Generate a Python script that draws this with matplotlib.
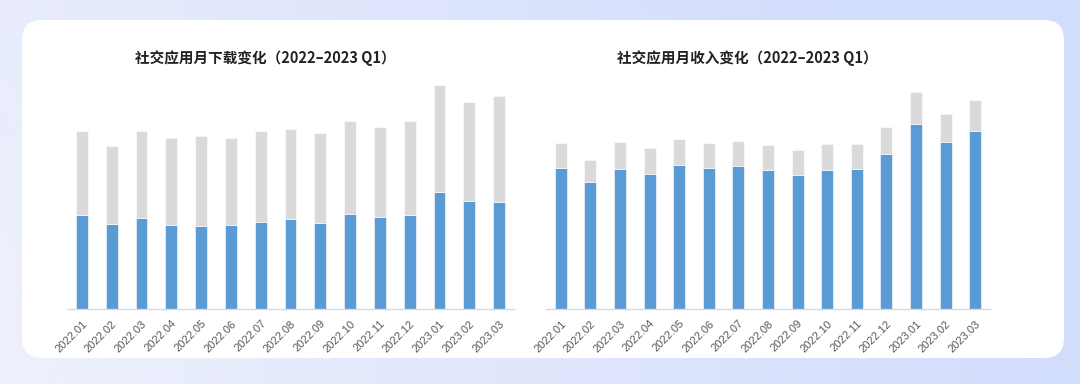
import numpy as np
import matplotlib.pyplot as plt
from matplotlib.patches import FancyBboxPatch

plt.rcParams['font.family'] = ['Noto Sans CJK SC', 'DejaVu Sans']

#
#  Data (arbitrary units)
#
months = ['2022.01', '2022.02', '2022.03', '2022.04', '2022.05', '2022.06',
          '2022.07', '2022.08', '2022.09', '2022.10', '2022.11', '2022.12',
          '2023.01', '2023.02', '2023.03']

dl_blue = [94.0, 84.4, 90.7, 84.0, 83.0, 83.4, 87.0, 89.4, 85.4, 95.0,
           91.7, 93.7, 117.0, 107.4, 106.7]
dl_gray = [83.7, 78.0, 87.0, 86.4, 89.7, 87.0, 90.7, 90.6, 90.3, 93.0,
           90.0, 94.3, 106.7, 99.0, 105.7]

rev_blue = [140.4, 126.4, 140.0, 135.0, 143.4, 140.4, 142.4, 138.7, 133.4,
            138.7, 139.7, 155.0, 185.0, 166.7, 177.7]
rev_gray = [25.3, 22.6, 26.4, 25.7, 26.0, 25.3, 25.6, 25.0, 25.3, 26.3,
            25.0, 26.4, 31.4, 28.3, 30.7]

titles = ['社交应用月下载变化（2022–2023 Q1）', '社交应用月收入变化（2022–2023 Q1）']

W, H = 1080, 384
BLUE = '#5b9bd5'
GRAY = '#dadada'

fig = plt.figure(figsize=(W / 100, H / 100), dpi=100)

# Gradient background
bg = fig.add_axes([0, 0, 1, 1])
gx = np.linspace(0, 1, 256)
grad = np.outer(np.linspace(0.2, 0, 2), np.ones(256)) + gx[None, :]
c0 = np.array([0xee, 0xf1, 0xfc]) / 255
c1 = np.array([0xd2, 0xdc, 0xfc]) / 255
img = c0[None, None, :] + (c1 - c0)[None, None, :] * np.clip(grad, 0, 1)[:, :, None]
bg.imshow(img, aspect='auto', extent=[0, W, 0, H], interpolation='bicubic')
bg.set_xlim(0, W)
bg.set_ylim(0, H)
bg.axis('off')

# White rounded panel
panel = FancyBboxPatch((22 + 20, H - 358 + 20), 1064 - 22 - 40, 358 - 20 - 40,
                       boxstyle='round,pad=20', fc='white', ec='none')
bg.add_patch(panel)


def px_axes(x0, x1, ytop, ybot):
    return fig.add_axes([x0 / W, (H - ybot) / H, (x1 - x0) / W, (ybot - ytop) / H])


def draw(ax, blue, gray):
    x = np.arange(len(months))
    ax.bar(x, blue, width=0.4, color=BLUE, edgecolor='white', linewidth=0.4)
    ax.bar(x, gray, width=0.4, bottom=blue, color=GRAY, edgecolor='white', linewidth=0.4)
    ax.set_xlim(-0.5, len(months) - 0.5)
    ax.set_ylim(0, 228.7)
    ax.set_xticks(x)
    ax.set_xticklabels(months, rotation=45, ha='right', rotation_mode='anchor',
                       fontsize=8, color='#595959', family='Liberation Sans')
    ax.tick_params(axis='x', length=0, pad=7)
    ax.set_yticks([])
    for s in ['top', 'left', 'right']:
        ax.spines[s].set_visible(False)
    ax.spines['bottom'].set_color('#d9d9d9')
    ax.spines['bottom'].set_linewidth(1.0)
    ax.patch.set_alpha(0)


ax1 = px_axes(67, 514, 80, 308.7)
draw(ax1, dl_blue, dl_gray)
ax2 = px_axes(546, 990, 80, 308.7)
draw(ax2, rev_blue, rev_gray)

fig.text(265 / W, 1 - 58 / H, titles[0], ha='center', va='center',
         fontsize=10.5, fontweight='bold', color='#222222')
fig.text(747 / W, 1 - 58 / H, titles[1], ha='center', va='center',
         fontsize=10.5, fontweight='bold', color='#222222')

fig.savefig('out.png', dpi=100)
